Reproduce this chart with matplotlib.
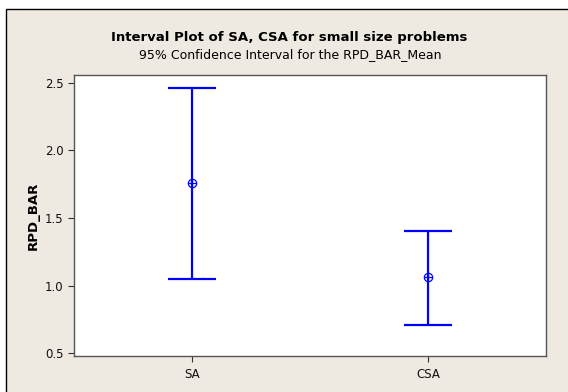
import numpy as np
import matplotlib.pyplot as plt
from matplotlib.patches import Rectangle

# datos
categorias = ['SA', 'CSA']
medias = [1.76, 1.06]
superior = [2.465, 1.405]
inferior = [1.045, 0.707]

W, H = 568, 392
fig = plt.figure(figsize=(W / 100, H / 100), dpi=100)
fig.patch.set_facecolor('white')

# marco del fondo
fondo = Rectangle((6 / W, -0.01), 1.0, 1 - 9 / H + 0.01, transform=fig.transFigure,
                  facecolor='#EEEAE1', edgecolor='black', linewidth=1, zorder=0)
fig.patches.append(fondo)

ax = fig.add_axes([74 / W, 1 - 356 / H, (546 - 74) / W, (356 - 75) / H])
ax.set_zorder(2)
ax.set_facecolor('white')

x = np.arange(len(categorias))
med = np.array(medias)
err = [med - np.array(inferior), np.array(superior) - med]

ax.errorbar(x, med, yerr=err, fmt='none', ecolor='#0000FF', elinewidth=1.6,
            capsize=17, capthick=1.6)
ax.plot(x, med, 'o', mfc='none', mec='#0000FF', ms=6, mew=0.9)
ax.plot(x, med, '+', color='#0000FF', ms=6, mew=0.9)

ax.set_xlim(-0.5, 1.5)
ax.set_ylim(0.478, 2.559)
ax.set_xticks(x)
ax.set_xticklabels(categorias)
ax.set_yticks([0.5, 1.0, 1.5, 2.0, 2.5])
ax.tick_params(direction='out', length=4, width=0.8, colors='#333333',
               labelsize=8.5, labelcolor='#111111')
ax.tick_params(axis='x', pad=5)
for s in ax.spines.values():
    s.set_color('#555555')
    s.set_linewidth(1)

ax.set_ylabel('RPD_BAR', fontsize=9.5, fontweight='bold', labelpad=4)

fig.text(289 / W, 1 - 37 / H, 'Interval Plot of SA, CSA for small size problems',
         ha='center', va='center', fontsize=9.5, fontweight='bold')
fig.text(290 / W, 1 - 55 / H, '95% Confidence Interval for the RPD_BAR_Mean',
         ha='center', va='center', fontsize=9)

plt.savefig('out.png', dpi=100, facecolor=fig.get_facecolor())
